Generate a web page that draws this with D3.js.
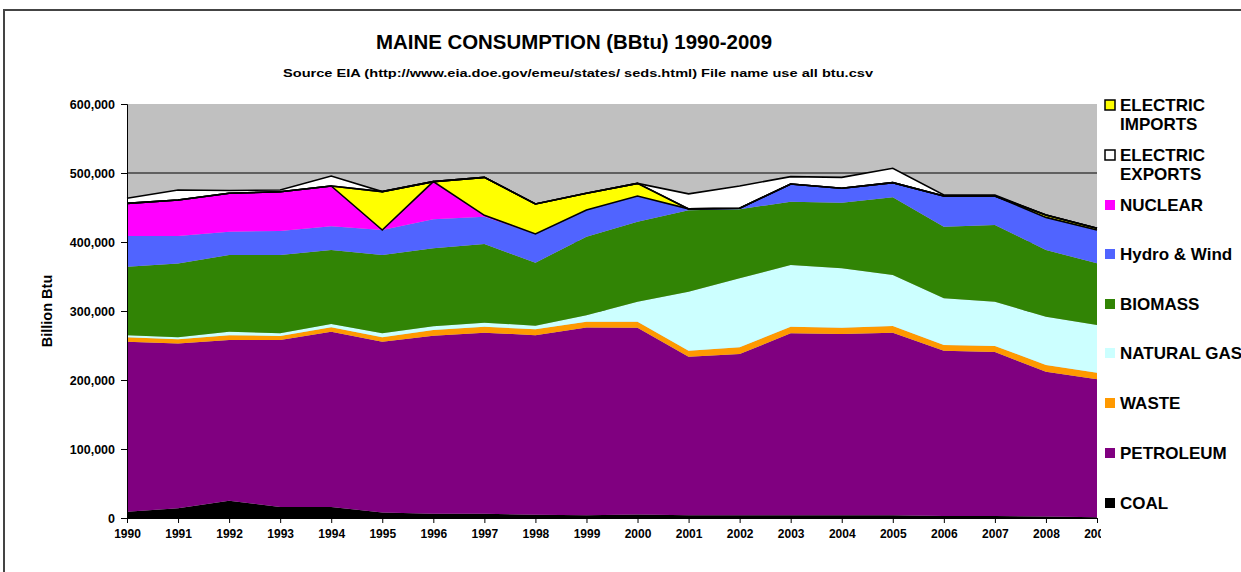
<!DOCTYPE html>
<html>
<head>
<meta charset="utf-8">
<script src="https://cdn.jsdelivr.net/npm/d3@7"></script>
<style>
  body { margin: 0; background: #fff; }
  text { font-family: "Liberation Sans", Arial, sans-serif; font-weight: bold; fill: #000; }
</style>
</head>
<body>
<svg id="chart" width="1241" height="572"></svg>
<script>
// values in Billion Btu
var years = [1990,1991,1992,1993,1994,1995,1996,1997,1998,1999,2000,2001,2002,2003,2004,2005,2006,2007,2008,2009];
var coal = [9000,14000,25000,16000,16000,8000,6000,6000,4700,4000,5000,4000,4000,4000,4000,4000,3000,3000,2000,1000];
var petroleum = [246500,239000,233000,242000,254000,247500,258000,262600,260300,272000,270800,229800,233700,263600,262700,264600,239500,237600,210000,200000];
var waste = [6300,6000,7000,5800,6300,6300,8500,8700,8500,8500,8700,8700,9600,9700,9100,9700,8200,8700,9700,9600];
var naturalGas = [3200,2800,5000,3800,4700,5800,5500,5700,5200,9500,29000,85500,100000,89400,86000,73700,67700,64200,70000,69100];
var biomass = [99300,107200,111000,113400,107400,113400,112800,114000,91300,113700,116000,118000,100200,91800,95200,112700,103800,111100,96700,89400];
var hydroWind = [44400,39700,34000,35000,34600,36400,42100,39700,41600,38700,37200,2000,1500,25500,20800,21300,44500,42100,47300,48300];
var nuclear = [47300,52200,55600,56900,58200,0,54600,2000,0,0,0,0,0,0,0,0,0,0,0,0];
var elecImports = [0,0,0,0,0,55600,0,55000,43500,24200,18300,0,0,0,0,0,0,0,3400,2400];
var elecExports = [7300,14500,4000,2500,14500,0,0,0,0,0,0,21700,32200,10700,15900,20800,1400,1400,0,0];

var yTicks = [0,100000,200000,300000,400000,500000,600000];

var series = [
  {key: "coal", name: "COAL", values: coal, color: "#000000"},
  {key: "petroleum", name: "PETROLEUM", values: petroleum, color: "#800080"},
  {key: "waste", name: "WASTE", values: waste, color: "#FF9900"},
  {key: "gas", name: "NATURAL GAS", values: naturalGas, color: "#CCFFFF"},
  {key: "biomass", name: "BIOMASS", values: biomass, color: "#318405"},
  {key: "hydro", name: "Hydro & Wind", values: hydroWind, color: "#5064FF"},
  {key: "nuclear", name: "NUCLEAR", values: nuclear, color: "#FF00FF"},
  {key: "imports", name: "ELECTRIC IMPORTS", values: elecImports, color: "#FFFF00", outline: true},
  {key: "exports", name: "ELECTRIC EXPORTS", values: elecExports, color: "#FFFFFF", outline: true}
];

var table = years.map(function(yr, i) {
  var row = {year: yr};
  series.forEach(function(s) { row[s.key] = s.values[i]; });
  return row;
});

var svg = d3.select("#chart");
var plotLeft = 127, plotRight = 1097, plotTop = 104, plotBottom = 518;

var x = d3.scaleLinear().domain([1990, 2009]).range([plotLeft, plotRight]);
var y = d3.scaleLinear().domain([0, 600000]).range([plotBottom, plotTop]);

// outer frame
svg.append("rect")
  .attr("x", 4).attr("y", 10).attr("width", 1400).attr("height", 800)
  .attr("fill", "none").attr("stroke", "#444").attr("stroke-width", 2);

// titles
svg.append("text")
  .attr("x", 574).attr("y", 49)
  .attr("text-anchor", "middle")
  .attr("font-size", 20)
  .attr("textLength", 396).attr("lengthAdjust", "spacingAndGlyphs")
  .text("MAINE CONSUMPTION (BBtu) 1990-2009");

svg.append("text")
  .attr("x", 578).attr("y", 77)
  .attr("text-anchor", "middle")
  .attr("font-size", 11)
  .attr("textLength", 590).attr("lengthAdjust", "spacingAndGlyphs")
  .text("Source EIA (http://www.eia.doe.gov/emeu/states/ seds.html)  File name use  all  btu.csv");

// plot background
svg.append("rect")
  .attr("x", plotLeft).attr("y", plotTop)
  .attr("width", plotRight - plotLeft).attr("height", plotBottom - plotTop)
  .attr("fill", "#C0C0C0");

// gridlines
svg.append("g").selectAll("line")
  .data(yTicks.slice(1, -1))
  .join("line")
  .attr("x1", plotLeft).attr("x2", plotRight)
  .attr("y1", function(d) { return y(d); })
  .attr("y2", function(d) { return y(d); })
  .attr("stroke", "#000").attr("stroke-width", 1);

var stack = d3.stack().keys(series.map(function(s) { return s.key; }));
var stacked = stack(table);

var area = d3.area()
  .x(function(d) { return x(d.data.year); })
  .y0(function(d) { return y(d[0]); })
  .y1(function(d) { return y(d[1]); });

var gAreas = svg.append("g");
stacked.forEach(function(layer, i) {
  gAreas.append("path")
    .datum(layer)
    .attr("d", area)
    .attr("fill", series[i].color);
});

// black outline on the electric import / export bands
var lineTop = d3.line()
  .x(function(d) { return x(d.data.year); })
  .y(function(d) { return y(d[1]); });
var lineBot = d3.line()
  .x(function(d) { return x(d.data.year); })
  .y(function(d) { return y(d[0]); });
stacked.forEach(function(layer, i) {
  if (!series[i].outline) return;
  gAreas.append("path").datum(layer).attr("d", lineBot)
    .attr("fill", "none").attr("stroke", "#000").attr("stroke-width", 1.6);
  gAreas.append("path").datum(layer).attr("d", lineTop)
    .attr("fill", "none").attr("stroke", "#000").attr("stroke-width", 1.6);
});

// axes
var yAxis = d3.axisLeft(y)
  .tickValues(yTicks)
  .tickSize(6)
  .tickPadding(6)
  .tickFormat(d3.format(","));

var gy = svg.append("g")
  .attr("transform", "translate(" + plotLeft + ",0)")
  .call(yAxis);
gy.select(".domain").attr("stroke", "#000");
gy.selectAll("text").attr("font-size", 12.5).attr("font-family", null);

var xAxis = d3.axisBottom(x)
  .tickValues(years)
  .tickSize(5)
  .tickPadding(6)
  .tickFormat(d3.format("d"));

var gx = svg.append("g")
  .attr("transform", "translate(0," + plotBottom + ")")
  .call(xAxis);
gx.select(".domain").attr("stroke", "#000");
gx.selectAll("text").attr("font-size", 12).attr("font-family", null);

svg.append("text")
  .attr("transform", "translate(52,311) rotate(-90)")
  .attr("text-anchor", "middle")
  .attr("font-size", 14.5)
  .text("Billion Btu");

// legend
var legend = svg.append("g");
legend.append("rect")
  .attr("x", 1101).attr("y", 92).attr("width", 140).attr("height", 450)
  .attr("fill", "#fff");

var legendItems = [
  {s: series[7], lines: ["ELECTRIC", "IMPORTS"], y: 105},
  {s: series[8], lines: ["ELECTRIC", "EXPORTS"], y: 155},
  {s: series[6], lines: ["NUCLEAR"], y: 205},
  {s: series[5], lines: ["Hydro & Wind"], y: 254},
  {s: series[4], lines: ["BIOMASS"], y: 304},
  {s: series[3], lines: ["NATURAL GAS"], y: 353},
  {s: series[2], lines: ["WASTE"], y: 403},
  {s: series[1], lines: ["PETROLEUM"], y: 453},
  {s: series[0], lines: ["COAL"], y: 503}
];

legendItems.forEach(function(it) {
  legend.append("rect")
    .attr("x", 1105).attr("y", it.y - 5)
    .attr("width", 10).attr("height", 10)
    .attr("fill", it.s.color)
    .attr("stroke", it.s.outline ? "#000" : "none")
    .attr("stroke-width", 1.5);
  it.lines.forEach(function(t, j) {
    legend.append("text")
      .attr("x", 1120).attr("y", it.y + j * 19)
      .attr("dy", "0.36em")
      .attr("font-size", 17)
      .text(t);
  });
});
</script>
</body>
</html>
